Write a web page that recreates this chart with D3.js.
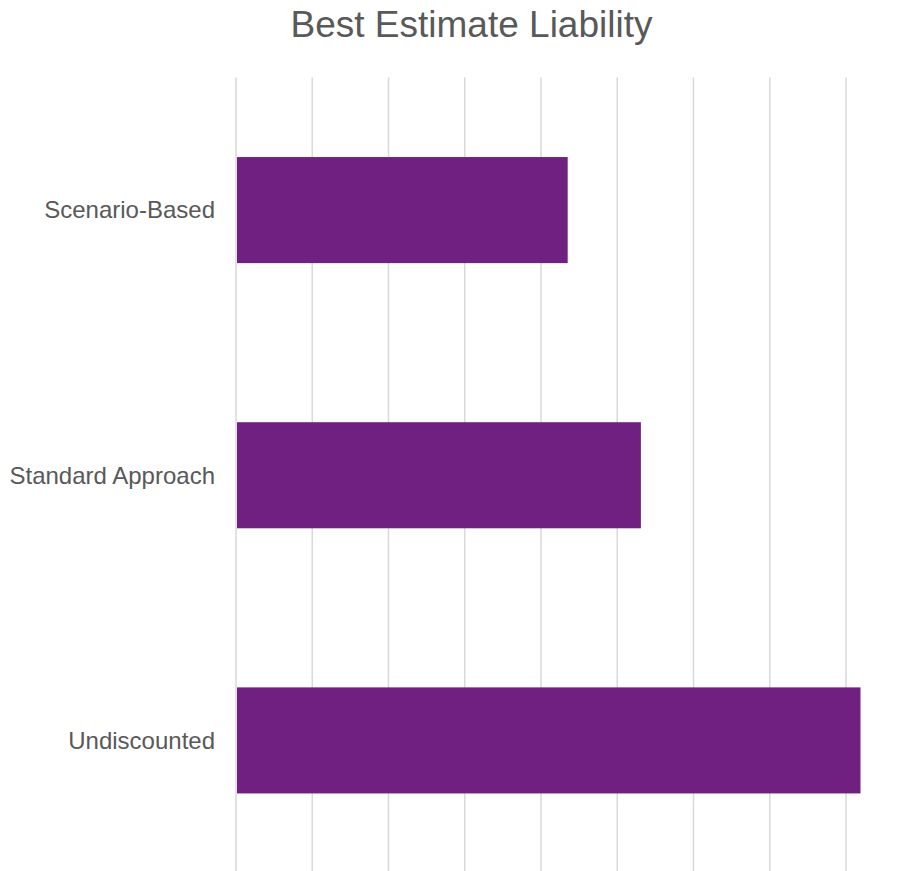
<!DOCTYPE html>
<html>
<head>
<meta charset="utf-8">
<script src="https://cdn.jsdelivr.net/npm/d3@7"></script>
<style>
  html, body { margin: 0; padding: 0; background: #ffffff; }
  svg { display: block; }
</style>
</head>
<body>
<svg id="chart" width="909" height="871"></svg>
<script>
// Best Estimate Liability by valuation method
const categories = ["Scenario-Based", "Standard Approach", "Undiscounted"];
const values = [4.35, 5.31, 8.19];
const gridTicks = [0, 1, 2, 3, 4, 5, 6, 7, 8];
const title = "Best Estimate Liability";

const svg = d3.select("#chart");
const W = 909, H = 871;
const plot = { left: 236, right: 846, top: 77.5, bottom: 873 };

const x = d3.scaleLinear().domain([0, 8]).range([plot.left, plot.right]);
const y = d3.scaleBand().domain(categories).range([plot.top, plot.bottom])
  .paddingInner(0.6).paddingOuter(0.3);

// vertical gridlines
svg.append("g").selectAll("line").data(gridTicks).join("line")
  .attr("x1", d => x(d)).attr("x2", d => x(d))
  .attr("y1", plot.top).attr("y2", H)
  .attr("stroke", "#d9d9d9").attr("stroke-width", 1.5);

// bars
svg.append("g").selectAll("rect").data(categories).join("rect")
  .attr("x", x(0) + 1)
  .attr("y", d => y(d))
  .attr("width", (d, i) => x(values[i]) - x(0) - 1)
  .attr("height", y.bandwidth())
  .attr("fill", "#6f2081");

// category labels
svg.append("g").selectAll("text").data(categories).join("text")
  .attr("x", 215)
  .attr("y", d => y(d) + y.bandwidth() / 2)
  .attr("dy", "0.35em")
  .attr("text-anchor", "end")
  .attr("font-family", "Liberation Sans, Arial, sans-serif")
  .attr("font-size", 24)
  .attr("fill", "#595959")
  .text(d => d);

// title
svg.append("text")
  .attr("x", 471.5).attr("y", 37)
  .attr("text-anchor", "middle")
  .attr("font-family", "Liberation Sans, Arial, sans-serif")
  .attr("font-size", 37)
  .attr("fill", "#595959")
  .text(title);
</script>
</body>
</html>
